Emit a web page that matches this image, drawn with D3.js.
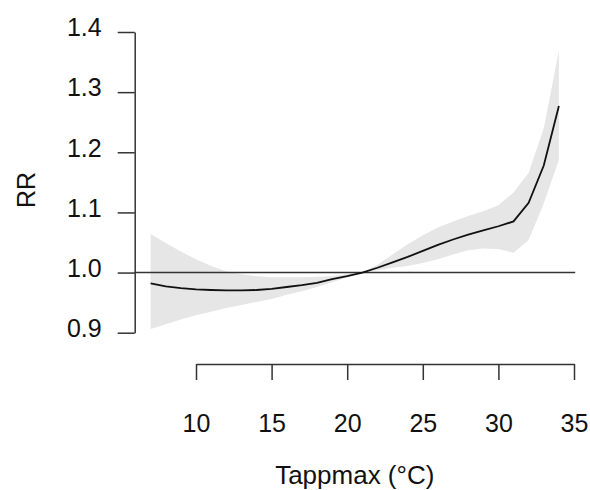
<!DOCTYPE html>
<html>
<head>
<meta charset="utf-8">
<script src="https://cdn.jsdelivr.net/npm/d3@7"></script>
<style>
  body { margin: 0; background: #fff; }
  svg { font-family: "Liberation Sans", Arial, sans-serif; }
</style>
</head>
<body>
<div id="chart"></div>
<script>
// Temperature (°C) values of the exposure-response curve
const temps = [7, 8, 9, 10, 11, 12, 13, 14, 15, 16, 17, 18, 19, 20, 21,
               22, 23, 24, 25, 26, 27, 28, 29, 30, 31, 32, 33, 34];
// Relative risk
const rr = [0.982, 0.977, 0.974, 0.972, 0.971, 0.9705, 0.9705, 0.971, 0.973, 0.976,
            0.979, 0.983, 0.989, 0.994, 1.000, 1.008, 1.017, 1.026, 1.036, 1.046,
            1.055, 1.063, 1.070, 1.077, 1.085, 1.116, 1.178, 1.277];
// Confidence band
const rrLow = [0.906, 0.914, 0.922, 0.929, 0.935, 0.941, 0.946, 0.951, 0.956, 0.963,
               0.969, 0.976, 0.984, 0.992, 1.000, 1.004, 1.008, 1.011, 1.016, 1.022,
               1.030, 1.037, 1.040, 1.039, 1.033, 1.054, 1.115, 1.187];
const rrHigh = [1.064, 1.049, 1.035, 1.022, 1.011, 1.002, 0.997, 0.994, 0.992, 0.992,
                0.992, 0.993, 0.994, 0.997, 1.000, 1.013, 1.030, 1.047, 1.062, 1.075,
                1.085, 1.094, 1.102, 1.112, 1.133, 1.166, 1.240, 1.369];
// Tick labels
const xTicks = [10, 15, 20, 25, 30, 35];
const yTicks = [0.9, 1.0, 1.1, 1.2, 1.3, 1.4];
const refLine = 1.0;

const w = 590;
const h = 490;

const svg = d3.select("#chart")
  .append("svg")
  .attr("width", w)
  .attr("height", h);

// scales
const xScale = d3.scaleLinear().domain([10, 35]).range([196, 574]);
const yScale = d3.scaleLinear().domain([0.9, 1.4]).range([332.7, 32]);
// plot region (R style 4% extension)
const xLim = [5.92, 35.08];

const data = temps.map((t, i) => ({ t: t, rr: rr[i], lo: rrLow[i], hi: rrHigh[i] }));

// confidence band
svg.append("path")
  .datum(data)
  .attr("d", d3.area()
    .x(d => xScale(d.t))
    .y0(d => yScale(d.lo))
    .y1(d => yScale(d.hi)))
  .attr("fill", "#e6e6e6")
  .attr("stroke", "none");

// reference line
svg.append("line")
  .attr("x1", xScale(xLim[0]))
  .attr("x2", xScale(xLim[1]))
  .attr("y1", yScale(refLine))
  .attr("y2", yScale(refLine))
  .attr("stroke", "#333")
  .attr("stroke-width", 1.5);

// RR curve
svg.append("path")
  .datum(data)
  .attr("d", d3.line()
    .x(d => xScale(d.t))
    .y(d => yScale(d.rr)))
  .attr("fill", "none")
  .attr("stroke", "#111")
  .attr("stroke-width", 1.8);

// Y axis
const yAxis = svg.append("g")
  .attr("transform", "translate(134.7,0)")
  .call(d3.axisLeft(yScale)
    .tickValues(yTicks)
    .tickFormat(d3.format(".1f"))
    .tickSize(17)
    .tickSizeOuter(0)
    .tickPadding(16));
yAxis.selectAll("text")
  .attr("dy", "0.15em")
  .style("font-size", "25px")
  .style("fill", "#111")
  .style("font-family", "'Liberation Sans', Arial, sans-serif");

// X axis
const xAxis = svg.append("g")
  .attr("transform", "translate(0,364)")
  .call(d3.axisBottom(xScale)
    .tickValues(xTicks)
    .tickSize(16)
    .tickSizeOuter(0)
    .tickPadding(34));
xAxis.selectAll("text")
  .style("font-size", "25px")
  .style("fill", "#111")
  .style("font-family", "'Liberation Sans', Arial, sans-serif");

svg.selectAll(".domain, .tick line")
  .attr("stroke", "#333")
  .attr("stroke-width", 1.5);

// axis titles
svg.append("text")
  .attr("x", xScale((xLim[0] + xLim[1]) / 2))
  .attr("y", 484)
  .attr("text-anchor", "middle")
  .style("font-size", "26px")
  .style("fill", "#111")
  .text("Tappmax (°C)");

svg.append("text")
  .attr("transform", "translate(35,190) rotate(-90)")
  .attr("text-anchor", "middle")
  .style("font-size", "25px")
  .style("fill", "#111")
  .text("RR");
</script>
</body>
</html>
